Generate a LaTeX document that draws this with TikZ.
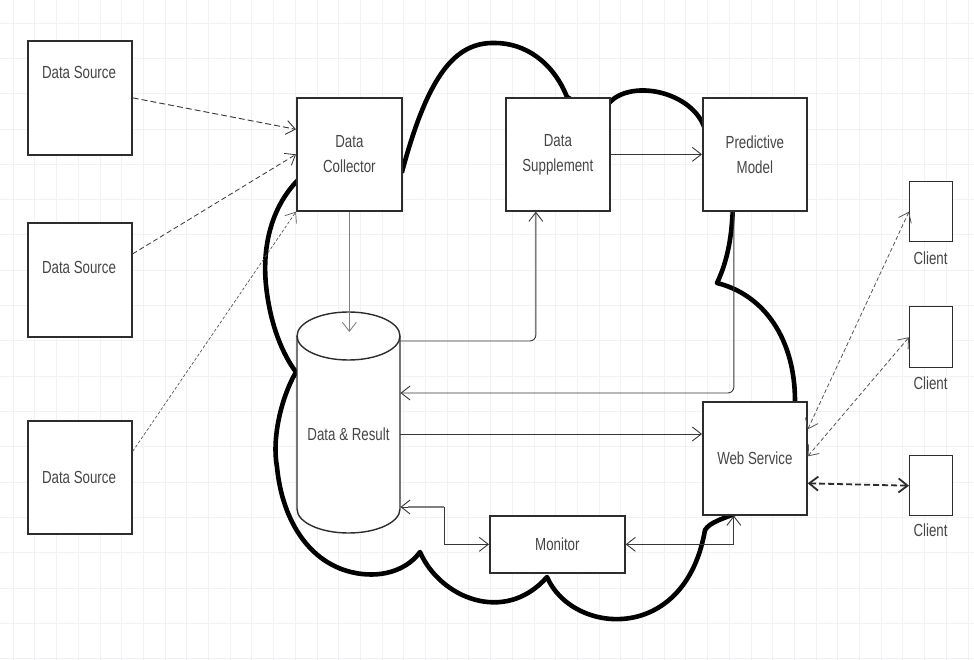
\documentclass[tikz,border=0pt]{standalone}
\usepackage{fontspec}
\setmainfont{Liberation Sans}[FakeStretch=0.76]
\usetikzlibrary{arrows.meta,calc}
\definecolor{gridc}{RGB}{240,242,247}
\definecolor{boxc}{RGB}{45,45,45}
\definecolor{textc}{RGB}{70,70,70}
\definecolor{arrc}{RGB}{55,55,55}
\definecolor{dashc}{RGB}{85,85,85}
\begin{document}
\begin{tikzpicture}[x=1pt,y=-1pt,
  box/.style={draw=boxc, line width=1.7pt, fill=white, inner sep=0pt, anchor=north west,
              text=textc, font=\fontsize{17.5}{25}\selectfont, align=center},
  txt/.style={text=textc, font=\fontsize{17.5}{25}\selectfont, align=center, inner sep=0pt},
  arr/.style={draw=arrc, line width=0.9pt, -{Straight Barb[length=9pt,width=14pt]}},
  arrb/.style={draw=arrc, line width=0.9pt, {Straight Barb[length=9pt,width=14pt]}-{Straight Barb[length=9pt,width=14pt]}},
  cloudline/.style={draw=black, line width=4.6pt, line join=round}]
\useasboundingbox (0,0) rectangle (974,660);
\fill[white] (0,0) rectangle (974,660);
% faint grid
\foreach \i in {0,...,44} \draw[gridc, line width=0.6pt] (13+21.7*\i,0) -- (13+21.7*\i,660);
\foreach \j in {0,...,18} \draw[gridc, line width=0.6pt] (0,23+35.3*\j) -- (974,23+35.3*\j);

% cloud
\draw[cloudline] (330,175) -- (300,178)
  .. controls (272,205) and (262,245) .. (266,285)
  .. controls (270,325) and (283,355) .. (296,372)
  .. controls (280,400) and (272,440) .. (277,467)
  .. controls (282,520) and (310,568) .. (362,574)
  .. controls (390,577) and (410,566) .. (420,552)
  .. controls (440,598) and (505,625) .. (547,577)
  .. controls (572,635) and (685,645) .. (705,530)
  .. controls (710,522) and (722,519) .. (745,510)
  -- (790,420) -- (795,401)
  .. controls (795,340) and (765,295) .. (717,283)
  .. controls (728,260) and (732,235) .. (733,205)
  -- (710,140) -- (702,122)
  .. controls (685,90) and (630,80) .. (609,103)
  -- (590,110) -- (567,97)
  .. controls (553,62) and (525,43) .. (495,43)
  .. controls (455,42) and (428,75) .. (402,172) -- cycle;

% boxes
\node[box, minimum width=104, minimum height=114] (ds1) at (27,40) {};
\node[txt] (ds1t) at (79,72) {Data Source};
\node[box, minimum width=104, minimum height=114] (ds2) at (27,222) {};
\node[txt] (ds2t) at (79,267) {Data Source};
\node[box, minimum width=104, minimum height=113] (ds3) at (27,420) {};
\node[txt] (ds3t) at (79,477) {Data Source};
\node[box, minimum width=105, minimum height=113] (col) at (296,97) {Data\\Collector};
\node[box, minimum width=104, minimum height=113] (sup) at (505,97) {Data\\Supplement};
\node[box, minimum width=104, minimum height=113] (pm) at (702,97) {Predictive\\Model};
\node[box, minimum width=104, minimum height=113] (ws) at (702,401) {Web Service};
\node[box, minimum width=135, minimum height=57] (mon) at (489,515) {Monitor};
\node[box, line width=1.4pt, minimum width=43, minimum height=60] (c1) at (909,181) {};
\node[box, line width=1.4pt, minimum width=43, minimum height=61] (c2) at (909,306) {};
\node[box, line width=1.4pt, minimum width=43, minimum height=60] (c3) at (909,455) {};
\node[txt] (c1t) at (930.5,258) {Client};
\node[txt] (c2t) at (930.5,383) {Client};
\node[txt] (c3t) at (930.5,530) {Client};

% cylinder
\draw[boxc, line width=1.4pt, fill=white] (297,336) -- (297,509) arc[start angle=180, end angle=360, x radius=51.5pt, y radius=24pt]
  -- (400,336) arc[start angle=0, end angle=180, x radius=51.5pt, y radius=24pt];
\draw[boxc, line width=1.4pt] (297,336) arc[start angle=180, end angle=360, x radius=51.5pt, y radius=24pt];
\node[inner sep=0pt, minimum width=103, minimum height=221, anchor=north west] (dr) at (297,312) {};
\node[txt] (drt) at (348.5,434) {Data \& Result};

% data sources to collector
\draw[arr, dash pattern=on 6pt off 3pt] ([yshift=0pt]ds1.east) -- ([yshift=25pt]col.west);
\draw[arr, line width=0.8pt, dash pattern=on 5pt off 3pt] ([yshift=26pt]ds2.east) -- (col.west);
\draw[arr, line width=0.7pt, draw=dashc, dash pattern=on 3pt off 2pt] ([yshift=26pt]ds3.east) -- (col.south west);

% internal connectors
\coordinate (drin) at (348.5,332);
\draw[arr, draw=gray] (col.south) -- (col.south |- drin);
\draw[arr, rounded corners=6pt] (dr.east |- 0,341) -| ([xshift=-22pt]sup.south);
\draw[arr] (sup.east) -- (pm.west);
\draw[arr, rounded corners=6pt] ([xshift=-21pt]pm.south) |- (dr.east |- 0,393);
\draw[arr] (dr.east |- 0,434) -- (ws.west |- 0,434);
\coordinate (mbend) at (444,507);
\draw[arrb] (dr.east |- mbend) -- (mbend) |- (mon.west);
\draw[gray, line width=2.4pt] ([xshift=8pt]dr.east |- mbend) -- (mbend);
\draw[arrb] (mon.east) -| ([xshift=-21pt]ws.south);

% clients
\draw[arrb, draw=dashc, line width=0.8pt, dash pattern=on 4pt off 2.5pt] ([yshift=29pt]ws.east) -- (c1.west);
\draw[arrb, draw=dashc, line width=0.8pt, dash pattern=on 4pt off 2.5pt] ([yshift=2pt]ws.east) -- (c2.west);
\draw[arrb, draw=boxc, line width=1.8pt, dash pattern=on 6pt off 3pt] ([yshift=-25pt]ws.east) -- (c3.west);
\end{tikzpicture}
\end{document}
